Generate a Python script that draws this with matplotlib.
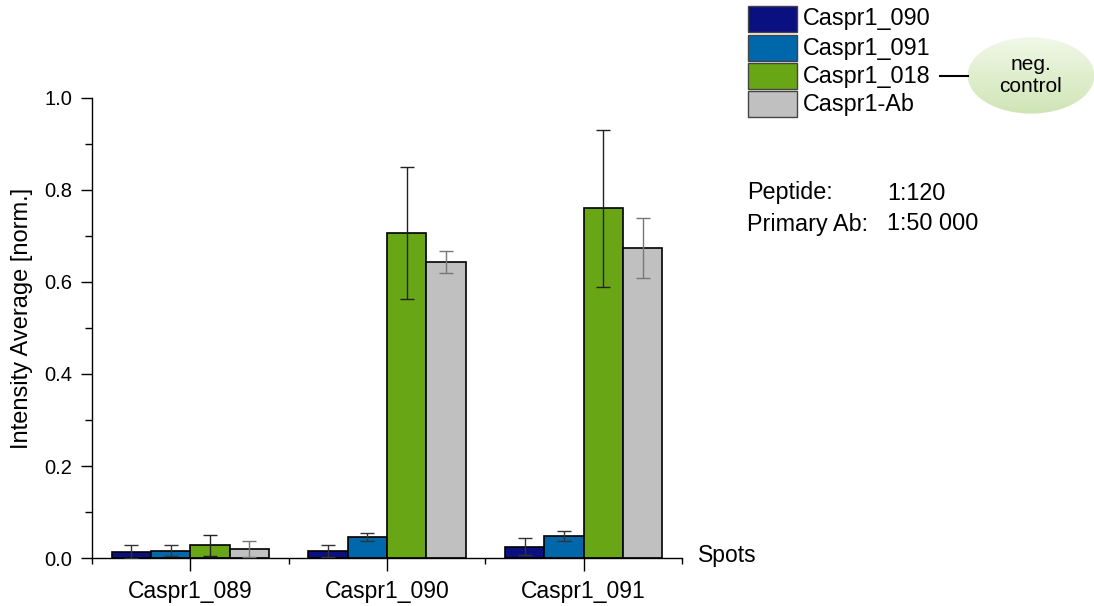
import numpy as np
import matplotlib
matplotlib.use("Agg")
import matplotlib.pyplot as plt
from matplotlib.patches import Ellipse, Rectangle
from matplotlib.ticker import MultipleLocator, FixedLocator, FormatStrFormatter

plt.rcParams['font.family'] = ['Liberation Sans', 'DejaVu Sans']

spots = ["Caspr1_089", "Caspr1_090", "Caspr1_091"]
series = ["Caspr1_090", "Caspr1_091", "Caspr1_018", "Caspr1-Ab"]
colors = ["#0b1080", "#0068aa", "#69a616", "#c0c0c0"]

means = [
    [0.014, 0.016, 0.025],   # Caspr1_090
    [0.016, 0.045, 0.048],   # Caspr1_091
    [0.028, 0.706, 0.760],   # Caspr1_018
    [0.019, 0.644, 0.674],   # Caspr1-Ab
]
errs = [
    [0.014, 0.013, 0.019],
    [0.012, 0.009, 0.010],
    [0.023, 0.143, 0.170],
    [0.017, 0.024, 0.066],
]
err_colors = ["#333333", "#333333", "#222222", "#777777"]

fig = plt.figure(figsize=(10.94, 6.06), dpi=100)
ax = fig.add_axes([0.0841, 0.0792, 0.5393, 0.7591])

x = np.arange(1, len(spots) + 1)
w = 0.2
for i, name in enumerate(series):
    pos = x + (i - 1.5) * w
    ax.bar(pos, means[i], width=w, color=colors[i], edgecolor="black",
           linewidth=1.2, zorder=2)
    ax.errorbar(pos, means[i], yerr=errs[i], fmt="none", ecolor=err_colors[i],
                elinewidth=1.0, capsize=5, capthick=1.0, zorder=3)

ax.set_xlim(0.5, 3.5)
ax.set_ylim(0, 1.0)
ax.spines["top"].set_visible(False)
ax.spines["right"].set_visible(False)
ax.spines["left"].set_linewidth(1.0)
ax.spines["bottom"].set_linewidth(1.0)

ax.set_xticks(x)
ax.set_xticklabels(spots, fontsize=16.5)
ax.xaxis.set_minor_locator(FixedLocator([0.5, 1.5, 2.5, 3.5]))
ax.tick_params(axis="x", which="major", direction="out", length=9, width=1.0, pad=7)
ax.tick_params(axis="x", which="minor", direction="out", length=4, width=1.0)

ax.yaxis.set_major_locator(MultipleLocator(0.2))
ax.yaxis.set_minor_locator(MultipleLocator(0.1))
ax.yaxis.set_major_formatter(FormatStrFormatter("%.1f"))
ax.tick_params(axis="y", which="major", direction="out", length=8, width=1.0,
               labelsize=14.5, pad=6)
ax.tick_params(axis="y", which="minor", direction="out", length=5, width=1.0)
ax.set_ylabel("Intensity Average [norm.]", fontsize=17)
ax.yaxis.set_label_coords(-0.10, 0.52)

fig.text(0.638, 0.083, "Spots", fontsize=16.5, ha="left", va="center")

# legend drawn as boxes with labels
box_y = [6, 35, 63, 91]
for name, c, y in zip(series, colors, box_y):
    fig.patches.append(Rectangle((748 / 1094, 1 - (y + 26) / 606), 49 / 1094, 26 / 606,
                                 transform=fig.transFigure, facecolor=c,
                                 edgecolor="#444444", linewidth=1.0))
    fig.text(803 / 1094, 1 - (y + 13) / 606, name, fontsize=16.8,
             ha="left", va="center")

# neg. control bubble
fig.add_artist(plt.Line2D([940 / 1094, 968 / 1094], [1 - 76 / 606] * 2,
                          color="black", linewidth=1.5))
ell_ax = fig.add_axes([967 / 1094, 1 - 114 / 606, 128 / 1094, 77 / 606])
ell_ax.set_axis_off()
ell_ax.set_xlim(0, 1)
ell_ax.set_ylim(0, 1)
grad = np.linspace(0, 1, 100)[:, None]
img = ell_ax.imshow(grad, extent=[0, 1, 0, 1], aspect="auto", origin="lower",
                    cmap=matplotlib.colors.LinearSegmentedColormap.from_list(
                        "g", ["#cfe5b5", "#f1f8e8"]))
ell = Ellipse((0.5, 0.5), 0.99, 0.99, transform=ell_ax.transAxes,
              facecolor="none", edgecolor="none")
ell_ax.add_patch(ell)
img.set_clip_path(ell)
ell_ax.text(0.5, 0.5, "neg.\ncontrol", ha="center", va="center", fontsize=15,
            linespacing=1.25, transform=ell_ax.transAxes)

fig.text(747 / 1094, 1 - 193 / 606, "Peptide:", fontsize=16.8, ha="left", va="center")
fig.text(887 / 1094, 1 - 193 / 606, "1:120", fontsize=16.8, ha="left", va="center")
fig.text(747 / 1094, 1 - 224 / 606, "Primary Ab:", fontsize=16.8, ha="left", va="center")
fig.text(887 / 1094, 1 - 224 / 606, "1:50 000", fontsize=16.8, ha="left", va="center")

fig.savefig("out.png", dpi=100)
